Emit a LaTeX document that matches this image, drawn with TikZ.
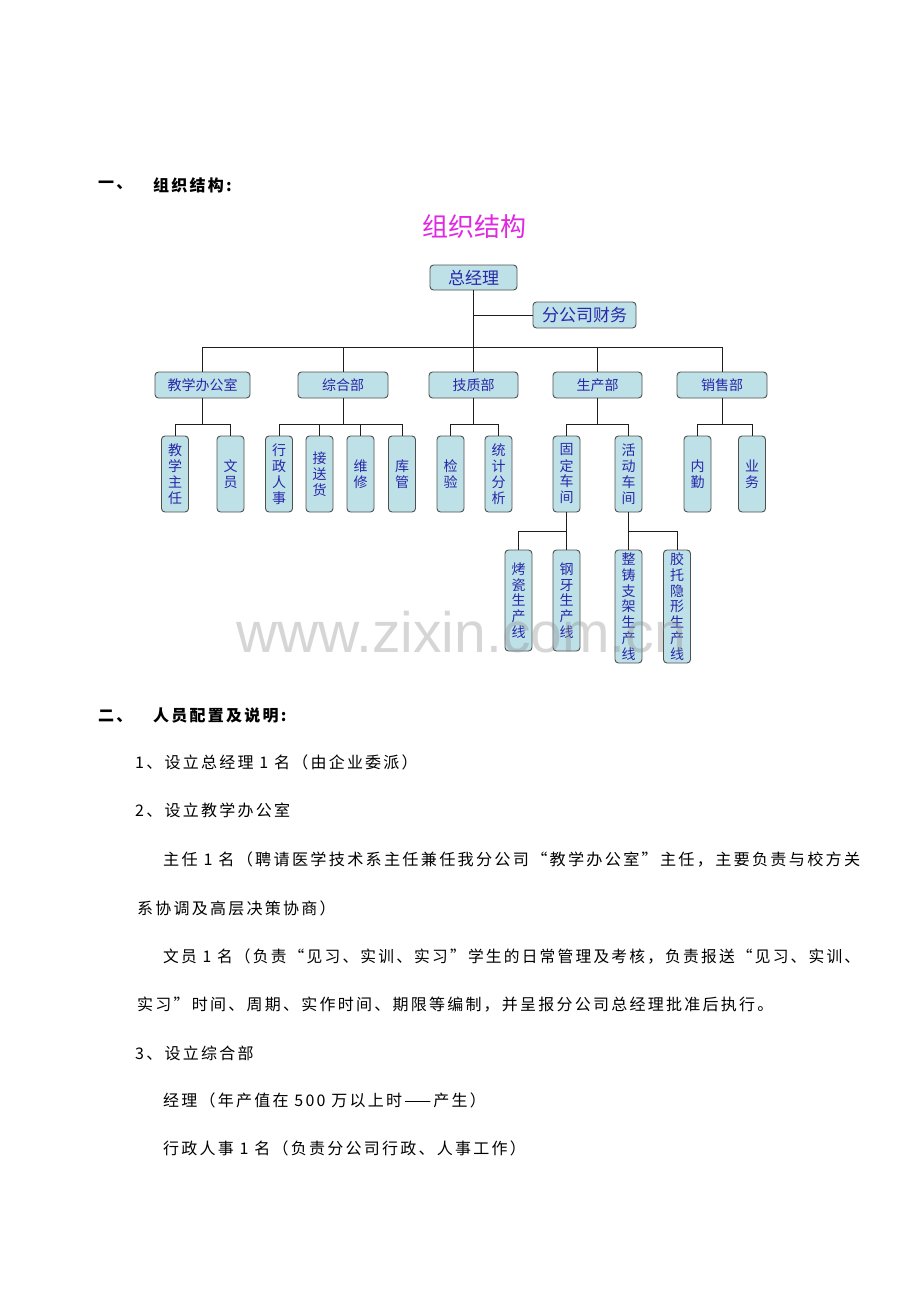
\documentclass[tikz,border=0pt]{standalone}
\usepackage{fontspec}
\usepackage{graphicx}
\newfontfamily\cjk{Noto Sans CJK SC}
\newfontfamily\cjkls{Noto Sans CJK SC}[LetterSpace=14]
\newfontfamily\wmfont{Liberation Sans}
\definecolor{boxfill}{RGB}{190,224,231}
\definecolor{boxdraw}{RGB}{80,80,80}
\definecolor{nodeblue}{RGB}{40,40,170}
\definecolor{titlemag}{RGB}{225,40,225}
\definecolor{conncol}{RGB}{30,30,30}
\newcommand\fitw[2]{\resizebox{#1}{\height}{#2}}
\begin{document}
\begin{tikzpicture}[x=1pt,y=-1pt,
  boxbase/.style={draw=boxdraw, fill=boxfill, rounded corners=3.5pt, line width=0.9pt, text=nodeblue, inner sep=0pt, align=center},
  topbox/.style={boxbase, font=\cjk\fontsize{17}{19}\selectfont, minimum height=25pt},
  deptbox/.style={boxbase, font=\cjk\fontsize{14}{16}\selectfont, minimum height=26pt},
  leafbox/.style={boxbase, font=\cjk\fontsize{14}{16}\selectfont, minimum width=27pt, minimum height=76pt},
  botbox/.style={boxbase, font=\cjk\fontsize{14}{15.8}\selectfont, minimum width=27pt},
  conn/.style={draw=conncol, line width=0.8pt},
  body/.style={anchor=west, inner sep=0pt, font=\cjkls\fontsize{16}{18}\selectfont, text=black},
  head/.style={anchor=west, inner sep=0pt, font=\cjkls\bfseries\fontsize{16}{18}\selectfont, text=black}]
\useasboundingbox[fill=white] (0,0) rectangle (920,1302);

% Section 1 heading
\node[head] (h1a) at (98,185) {一、};
\node[head] (h1b) at (153,185) {组织结构:};

% Title
\node[inner sep=0pt, text=titlemag, font=\cjk\fontsize{26}{28}\selectfont] (title) at (474,227) {组织结构};

% Top nodes
\node[topbox, minimum width=87pt] (gm) at (473.5,277.5) {总经理};
\node[topbox, minimum width=103pt, minimum height=26pt] (fin) at (584.5,315) {分公司财务};

% Departments
\node[deptbox, minimum width=95pt] (d1) at (202.5,385) {教学办公室};
\node[deptbox, minimum width=90pt] (d2) at (343,385) {综合部};
\node[deptbox, minimum width=89pt] (d3) at (473.5,385) {技质部};
\node[deptbox, minimum width=89pt] (d4) at (597.5,385) {生产部};
\node[deptbox, minimum width=90pt] (d5) at (722,385) {销售部};

% Leaves
\node[leafbox] (l1) at (175,474) {教\\学\\主\\任};
\node[leafbox] (l2) at (230.5,474) {文\\员};
\node[leafbox] (l3) at (279,474) {行\\政\\人\\事};
\node[leafbox] (l4) at (319.5,474) {接\\送\\货};
\node[leafbox] (l5) at (360.5,474) {维\\修};
\node[leafbox] (l6) at (402,474) {库\\管};
\node[leafbox] (l7) at (450.5,474) {检\\验};
\node[leafbox] (l8) at (498.5,474) {统\\计\\分\\析};
\node[leafbox] (l9) at (566.5,474) {固\\定\\车\\间};
\node[leafbox] (l10) at (628.5,474) {活\\动\\车\\间};
\node[leafbox] (l11) at (697.5,474) {内\\勤};
\node[leafbox] (l12) at (752,474) {业\\务};

% Bottom row
\node[botbox, minimum height=101pt] (b1) at (518.5,600.5) {烤\\瓷\\生\\产\\线};
\node[botbox, minimum height=101pt] (b2) at (566.5,600.5) {钢\\牙\\生\\产\\线};
\node[botbox, minimum height=113pt] (b3) at (628.5,606.5) {整\\铸\\支\\架\\生\\产\\线};
\node[botbox, minimum height=113pt] (b4) at (677,606.5) {胶\\托\\隐\\形\\生\\产\\线};

% Bus coordinates
\coordinate (bus) at (0,347);
\coordinate (sub) at (0,424);
\coordinate (bsub) at (0,531);

% Connectors top
\draw[conn] (gm.south) -- (gm.south |- bus);
\draw[conn] (gm.south |- fin) -- (fin.west);
\draw[conn] (d1.north) -- (d1.north |- bus) -- (d5.north |- bus) -- (d5.north);
\draw[conn] (d2.north) -- (d2.north |- bus);
\draw[conn] (d3.north) -- (d3.north |- bus);
\draw[conn] (d4.north) -- (d4.north |- bus);

% Dept to leaves
\draw[conn] (d1.south) -- (d1.south |- sub);
\draw[conn] (l1.north) -- (l1.north |- sub) -- (l2.north |- sub) -- (l2.north);
\draw[conn] (d2.south) -- (d2.south |- sub);
\draw[conn] (l3.north) -- (l3.north |- sub) -- (l6.north |- sub) -- (l6.north);
\draw[conn] (l4.north) -- (l4.north |- sub);
\draw[conn] (l5.north) -- (l5.north |- sub);
\draw[conn] (d3.south) -- (d3.south |- sub);
\draw[conn] (l7.north) -- (l7.north |- sub) -- (l8.north |- sub) -- (l8.north);
\draw[conn] (d4.south) -- (d4.south |- sub);
\draw[conn] (l9.north) -- (l9.north |- sub) -- (l10.north |- sub) -- (l10.north);
\draw[conn] (d5.south) -- (d5.south |- sub);
\draw[conn] (l11.north) -- (l11.north |- sub) -- (l12.north |- sub) -- (l12.north);

% Workshops to lines
\draw[conn] (l9.south) -- (b2.north);
\draw[conn] (b1.north) -- (b1.north |- bsub) -- (l9.south |- bsub);
\draw[conn] (l10.south) -- (b3.north);
\draw[conn] (l10.south |- bsub) -- (b4.north |- bsub) -- (b4.north);

% Section 2
\node[head] (h2a) at (98,716) {二、};
\node[head] (h2b) at (153,716) {人员配置及说明:};
\node[body] (t1) at (135,762) {1、设立总经理 1 名（由企业委派）};
\node[body] (t2) at (135,810) {2、设立教学办公室};
\node[body] (t3) at (163,859) {\fitw{697pt}{主任 1 名（聘请医学技术系主任兼任我分公司“教学办公室”主任，主要负责与校方关}};
\node[body] (t4) at (137,908) {系协调及高层决策协商）};
\node[body] (t5) at (163,956) {\fitw{697pt}{文员 1 名（负责“见习、实训、实习”学生的日常管理及考核，负责报送“见习、实训、}};
\node[body] (t6) at (137,1005) {实习”时间、周期、实作时间、期限等编制，并呈报分公司总经理批准后执行。};
\node[body] (t7) at (135,1053) {3、设立综合部};
\node[body] (t8) at (163,1100) {经理（年产值在 500 万以上时——产生）};
\node[body] (t9) at (163,1148) {行政人事 1 名（负责分公司行政、人事工作）};

% Watermark
\node[anchor=base, inner sep=0pt, text=black!45, opacity=0.35, font=\wmfont\fontsize{57}{60}\selectfont] (wm) at (461,652) {www.zixin.com.cn};
\end{tikzpicture}
\end{document}
